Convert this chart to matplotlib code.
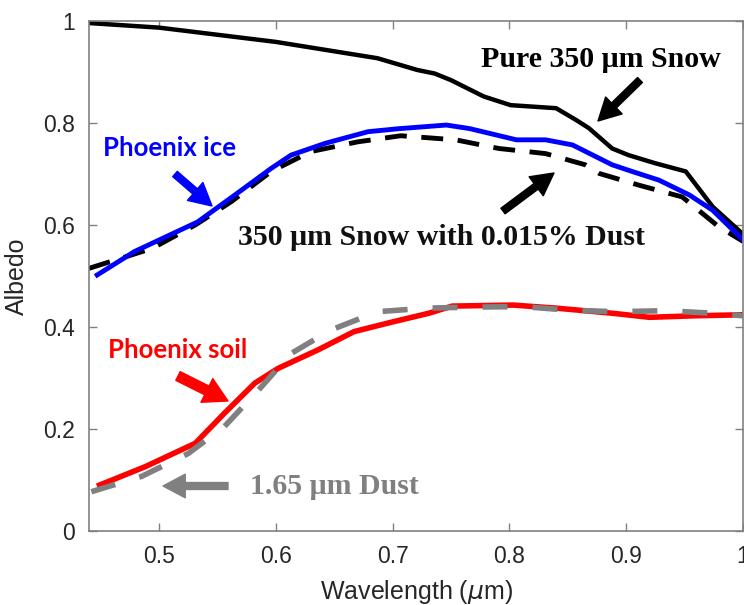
import matplotlib
matplotlib.use("Agg")
from matplotlib import pyplot as plt

# Albedo spectra

snow_wl = [0.44, 0.50, 0.60, 0.687, 0.721, 0.736, 0.750, 0.778, 0.801, 0.840,
           0.857, 0.868, 0.888, 0.902, 0.925, 0.951, 0.974, 1.0]
snow = [0.996, 0.987, 0.959, 0.927, 0.904, 0.897, 0.884, 0.852, 0.835, 0.829,
        0.806, 0.790, 0.750, 0.737, 0.721, 0.705, 0.636, 0.582]

ice_wl = [0.447, 0.479, 0.533, 0.565, 0.596, 0.613, 0.642, 0.679, 0.706, 0.746,
          0.766, 0.806, 0.831, 0.854, 0.888, 0.905, 0.928, 0.954, 0.974, 1.0]
ice = [0.502, 0.548, 0.606, 0.659, 0.711, 0.737, 0.760, 0.783, 0.789, 0.796,
       0.789, 0.767, 0.767, 0.757, 0.718, 0.705, 0.688, 0.659, 0.629, 0.571]

dusty_wl = [0.44, 0.494, 0.531, 0.562, 0.596, 0.630, 0.670, 0.707, 0.754, 0.791,
            0.831, 0.865, 0.877, 0.911, 0.948, 0.979, 1.0]
dusty = [0.515, 0.554, 0.600, 0.646, 0.705, 0.744, 0.763, 0.775, 0.767, 0.750,
         0.740, 0.718, 0.701, 0.678, 0.655, 0.597, 0.568]

soil_wl = [0.449, 0.488, 0.531, 0.556, 0.582, 0.602, 0.636, 0.667, 0.700, 0.731,
           0.751, 0.803, 0.840, 0.888, 0.920, 0.959, 1.0]
soil = [0.090, 0.126, 0.172, 0.231, 0.290, 0.319, 0.355, 0.391, 0.410, 0.427,
        0.441, 0.443, 0.437, 0.427, 0.419, 0.422, 0.424]

dust_wl = [0.442, 0.485, 0.525, 0.556, 0.585, 0.613, 0.647, 0.687, 0.729, 0.768,
           0.811, 0.851, 0.892, 0.934, 0.974, 1.0]
dust = [0.077, 0.107, 0.152, 0.205, 0.276, 0.348, 0.394, 0.430, 0.437, 0.439,
        0.440, 0.433, 0.430, 0.432, 0.427, 0.422]

plt.rcParams['font.family'] = ['Liberation Sans', 'DejaVu Sans']

fig = plt.figure(figsize=(7.44, 6.05), dpi=100)
ax = fig.add_axes([89 / 744, 74 / 605, 654 / 744, 510 / 605])

ax.plot(snow_wl, snow, c="k", lw=3.2)
ax.plot(dusty_wl, dusty, c="k", lw=3.5, linestyle=(0, (4.5, 3)))
ax.plot(ice_wl, ice, c="#0000ff", lw=3.5)
ax.plot(soil_wl, soil, c="#ff0000", lw=4.0)
ax.plot(dust_wl, dust, c="#808080", lw=4.0, linestyle=(0, (4.5, 4.5)))

ax.set_xlim(0.44, 1.0)
ax.set_ylim(0, 1)
ax.set_xticks([0.5, 0.6, 0.7, 0.8, 0.9, 1.0])
ax.set_xticklabels(["0.5", "0.6", "0.7", "0.8", "0.9", "1"])
ax.set_yticks([0, 0.2, 0.4, 0.6, 0.8, 1.0])
ax.set_yticklabels(["0", "0.2", "0.4", "0.6", "0.8", "1"])
ax.tick_params(direction="in", top=True, right=True, length=6, width=1,
               color="#808080", labelsize=16.5, labelcolor="#262626", pad=10)
for s in ax.spines.values():
    s.set_color("#808080")
    s.set_linewidth(1.2)
ax.set_xlabel("Wavelength ($\\mu$m)", fontsize=18, color="#262626", labelpad=7)
ax.set_ylabel("Albedo", fontsize=18, color="#262626", labelpad=10)

serif = dict(family=["Liberation Serif", "DejaVu Serif"], weight="bold", fontsize=21.5)
sans = dict(family=["Lato", "DejaVu Sans"], weight="bold", fontsize=18.5)


def arrow(x0, y0, x1, y1, color, tw=0.25, hw=0.85, hl=0.8, ms=20):
    # pixel coords -> data coords
    inv = ax.transData.inverted()
    p0 = inv.transform((x0, 605 - y0))
    p1 = inv.transform((x1, 605 - y1))
    ax.annotate("", xy=p1, xytext=p0,
                arrowprops=dict(arrowstyle=f"simple,head_width={hw},head_length={hl},tail_width={tw}",
                                fc=color, ec=color, mutation_scale=ms, shrinkA=0, shrinkB=0))


fig.canvas.draw()

ax.text(0.878, 0.924, "Pure 350 μm Snow", color="k", ha="center", va="center", **serif)
arrow(640, 80, 598, 121, "k")
ax.text(0.742, 0.576, "350 μm Snow with 0.015% Dust", color="#111111", ha="center", va="center", **serif)
arrow(503, 211, 554, 173, "k")
ax.text(0.509, 0.751, "Phoenix ice", color="#0000ff", ha="center", va="center", **sans)
arrow(175, 174, 212, 206, "#0000ff")
ax.text(0.516, 0.355, "Phoenix soil", color="#ff0000", ha="center", va="center", **sans)
arrow(178, 376, 228, 401, "#ff0000", tw=0.35, hw=0.95, hl=0.85)
ax.text(0.650, 0.088, "1.65 μm Dust", color="#808080", ha="center", va="center", **serif)
arrow(228, 486, 163, 486, "#808080")

fig.savefig("out.png", dpi=100)
